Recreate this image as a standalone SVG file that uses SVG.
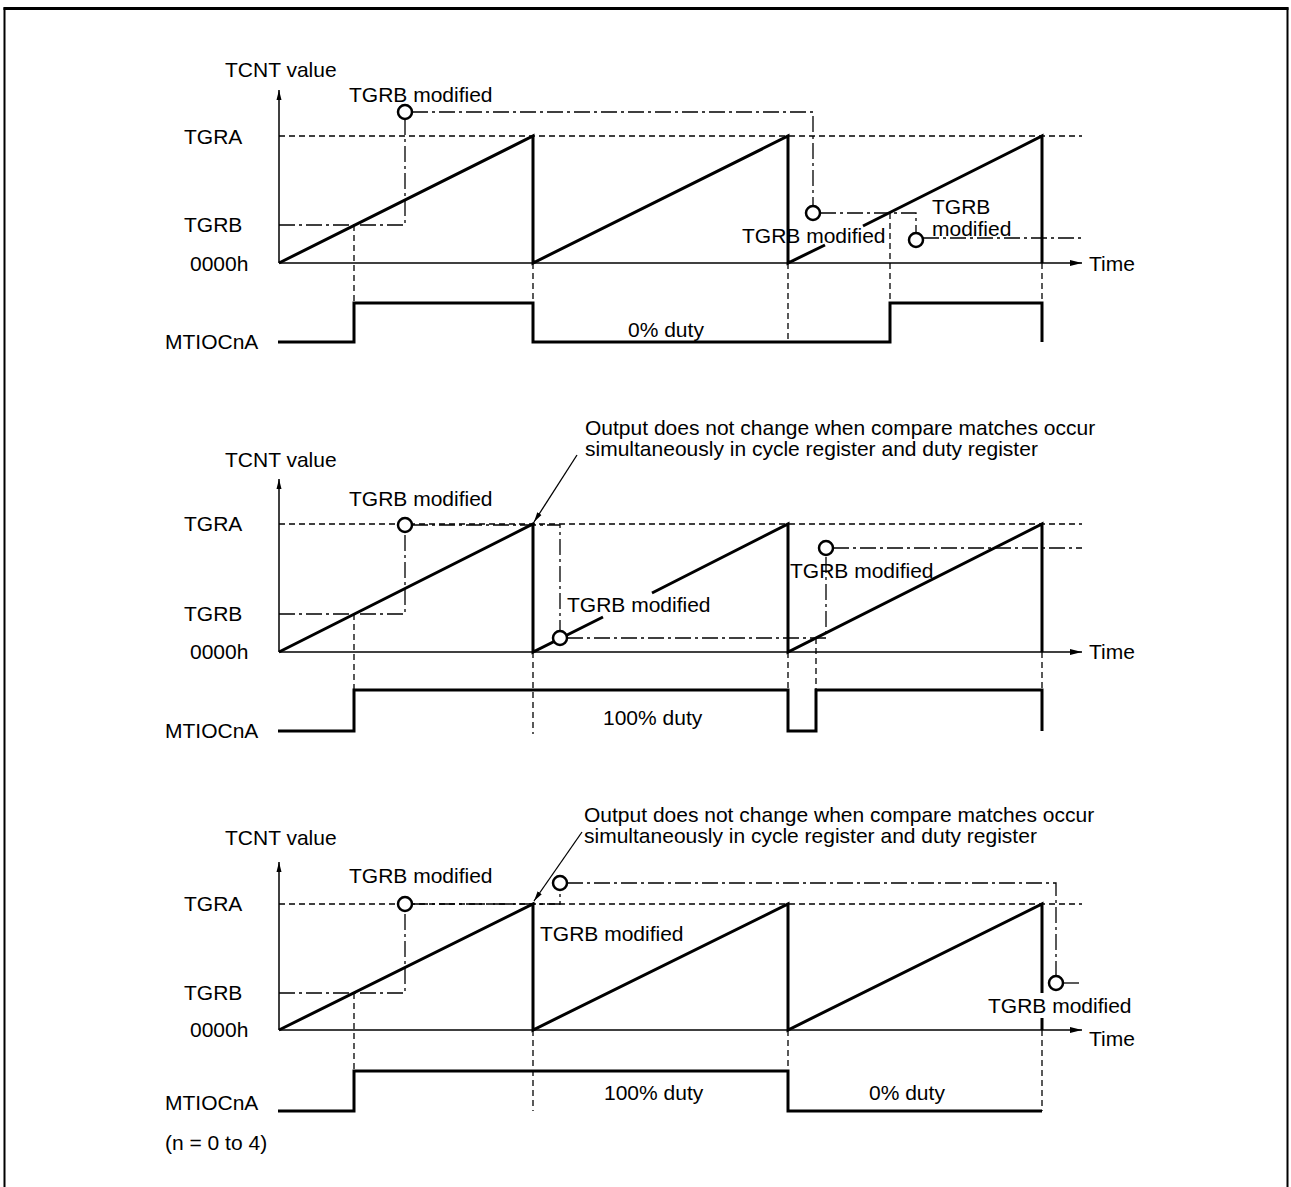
<svg xmlns="http://www.w3.org/2000/svg" width="1291" height="1187" viewBox="0 0 1291 1187">
<defs>
<style>
.ax{stroke:#000;stroke-width:1.5;fill:none}
.th{stroke:#000;stroke-width:3;fill:none}
.da{stroke:#000;stroke-width:1.3;stroke-dasharray:6 4;fill:none}
.dd{stroke:#000;stroke-width:1.3;stroke-dasharray:16 4 3 4;fill:none}
.cir{fill:#fff;stroke:#000;stroke-width:2.5}
text{font-family:"Liberation Sans",Arial,sans-serif;font-size:21px;fill:#000}
</style>
<marker id="ah" viewBox="0 0 12 8" refX="12" refY="4" markerWidth="12" markerHeight="8" markerUnits="userSpaceOnUse" orient="auto"><path d="M0,1 L12,4 L0,7 z" fill="#000"/></marker>
<marker id="ahs" viewBox="0 0 10 6" refX="10" refY="3" markerWidth="10" markerHeight="6" markerUnits="userSpaceOnUse" orient="auto"><path d="M0,0.5 L10,3 L0,5.5 z" fill="#000"/></marker>
</defs>
<rect x="0" y="0" width="1291" height="1187" fill="#fff"/>
<path d="M4.5,1187 V8.5 H1287.5 V1187" fill="none" stroke="#000" stroke-width="2"/>
<line x1="3.5" y1="8.5" x2="1288.5" y2="8.5" stroke="#000" stroke-width="3"/>

<g id="panel1">
<g id="p1-connectors">
<path class="ax" d="M279,263 V90" marker-end="url(#ahs)"/>
<path class="ax" d="M279,263 H1082" marker-end="url(#ah)"/>
<path class="da" d="M279,136 H1082"/>
<path class="th" d="M279,263 L533,136 V263 L788,136 V263 L825,245 M863,226 L1042,136 V263"/>
<path class="dd" d="M279,225 H405 V119"/>
<path class="dd" d="M412,112 H813 V206"/>
<path class="dd" d="M820,213 H916 V233"/>
<path class="dd" d="M923,238 H1082"/>
<path class="da" d="M354,225 V303 M533,263 V303 M788,263 V342 M890,213 V303 M1042,263 V303"/>
<path class="th" d="M278,342 H354 V303 H533 V342 H890 V303 H1042 V342"/>
</g>
<g id="p1-nodes">
<circle class="cir" cx="405" cy="112" r="7"/>
<circle class="cir" cx="813" cy="213" r="7"/>
<circle class="cir" cx="916" cy="240" r="7"/>
</g>
<g id="p1-labels">
<text x="225" y="77">TCNT value</text>
<text x="349" y="102">TGRB modified</text>
<text x="184" y="144">TGRA</text>
<text x="184" y="232">TGRB</text>
<text x="190" y="271">0000h</text>
<text x="742" y="243">TGRB modified</text>
<text x="932" y="214">TGRB</text>
<text x="932" y="236">modified</text>
<text x="1089" y="271">Time</text>
<text x="628" y="337">0% duty</text>
<text x="165" y="349">MTIOCnA</text>
</g>
</g>

<g id="panel2">
<g id="p2-connectors">
<path class="ax" d="M279,652 V479" marker-end="url(#ahs)"/>
<path class="ax" d="M279,652 H1082" marker-end="url(#ah)"/>
<path class="da" d="M279,524 H1082"/>
<path class="th" d="M279,652 L533,524 V652 L603,617 M652,593 L788,524 V652 L1042,524 V652"/>
<path class="dd" d="M279,614 H405 V532"/>
<path class="dd" d="M412,525 H560 V631"/>
<path class="dd" d="M567,638 H826 V555"/>
<path class="dd" d="M833,548 H1082"/>
<path class="da" d="M354,614 V690 M533,652 V734 M788,652 V690 M816,638 V690 M1042,652 V690"/>
<path class="th" d="M278,731 H354 V690 H788 V731 H816 V690 H1042 V731"/>
<path stroke="#000" stroke-width="1.3" fill="none" d="M577,455 L534,522" marker-end="url(#ahs)"/>
</g>
<g id="p2-nodes">
<circle class="cir" cx="405" cy="525" r="7"/>
<circle class="cir" cx="560" cy="638" r="7"/>
<circle class="cir" cx="826" cy="548" r="7"/>
</g>
<g id="p2-labels">
<text x="585" y="435">Output does not change when compare matches occur</text>
<text x="585" y="456">simultaneously in cycle register and duty register</text>
<text x="225" y="467">TCNT value</text>
<text x="349" y="506">TGRB modified</text>
<text x="184" y="531">TGRA</text>
<text x="184" y="621">TGRB</text>
<text x="190" y="659">0000h</text>
<text x="567" y="612">TGRB modified</text>
<text x="790" y="578">TGRB modified</text>
<text x="1089" y="659">Time</text>
<text x="603" y="725">100% duty</text>
<text x="165" y="738">MTIOCnA</text>
</g>
</g>

<g id="panel3">
<g id="p3-connectors">
<path class="ax" d="M279,1030 V862" marker-end="url(#ahs)"/>
<path class="ax" d="M279,1030 H1082" marker-end="url(#ah)"/>
<path class="da" d="M279,904 H1082"/>
<path class="th" d="M279,1030 L533,904 V1030 L788,904 V1030 L1042,904 V993 M1042,1018 V1030"/>
<path class="dd" d="M279,993 H405 V911"/>
<path class="dd" d="M412,904 H560 V890"/>
<path class="dd" d="M567,883 H1056 V976"/>
<path class="dd" d="M1063,983 H1082"/>
<path class="da" d="M354,993 V1071 M533,1030 V1111 M788,1030 V1071 M1042,1030 V1111"/>
<path class="th" d="M278,1111 H354 V1071 H788 V1111 H1042"/>
<path stroke="#000" stroke-width="1.3" fill="none" d="M582,832 L534,901" marker-end="url(#ahs)"/>
</g>
<g id="p3-nodes">
<circle class="cir" cx="405" cy="904" r="7"/>
<circle class="cir" cx="560" cy="883" r="7"/>
<circle class="cir" cx="1056" cy="983" r="7"/>
</g>
<g id="p3-labels">
<text x="584" y="822">Output does not change when compare matches occur</text>
<text x="584" y="843">simultaneously in cycle register and duty register</text>
<text x="225" y="845">TCNT value</text>
<text x="349" y="883">TGRB modified</text>
<text x="184" y="911">TGRA</text>
<text x="184" y="1000">TGRB</text>
<text x="190" y="1037">0000h</text>
<text x="540" y="941">TGRB modified</text>
<text x="988" y="1013">TGRB modified</text>
<text x="1089" y="1046">Time</text>
<text x="604" y="1100">100% duty</text>
<text x="869" y="1100">0% duty</text>
<text x="165" y="1110">MTIOCnA</text>
<text x="165" y="1150">(n = 0 to 4)</text>
</g>
</g>
</svg>
